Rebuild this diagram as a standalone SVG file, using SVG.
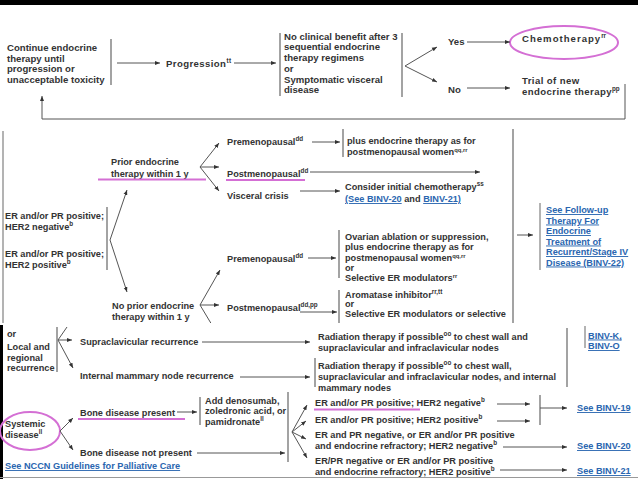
<svg xmlns="http://www.w3.org/2000/svg" width="638" height="479" viewBox="0 0 638 479">
<defs>
<marker id="ah" viewBox="0 0 6 6" refX="6" refY="3" markerWidth="5" markerHeight="5" orient="auto" markerUnits="userSpaceOnUse">
<path d="M0,0.6 L6,3 L0,5.4 z" fill="#333"/>
</marker>
<clipPath id="midclip"><rect x="0" y="129" width="638" height="194"/></clipPath>
</defs>
<style>
text{font-family:"Liberation Sans",Arial,sans-serif;font-weight:bold;fill:#333}
.t1{font-size:9.6px}
.t2{font-size:9.2px}
.lk{fill:#2a66b0;text-decoration:underline}
.sup{font-size:6.3px}
.sm{font-size:5.8px}
.ln{stroke:#555;stroke-width:1;fill:none}
.ar{stroke:#555;stroke-width:1;fill:none;marker-end:url(#ah)}
.bar{stroke:#666;stroke-width:1.2;fill:none}
.lbar{stroke:#9a9a9a;stroke-width:1.5;fill:none}
.pk{stroke:#d46fd4;stroke-width:2;fill:none}
</style>
<rect x="0" y="0" width="638" height="479" fill="#fff"/>
<rect x="0" y="0" width="638" height="5" fill="#000"/>

<!-- top panel -->
<g id="continue" class="t1">
<line class="bar" x1="111" y1="39" x2="111" y2="85"/>
<text x="7" y="51">Continue endocrine</text>
<text x="7" y="61.5">therapy until</text>
<text x="7" y="72">progression or</text>
<text x="7" y="82.5">unacceptable toxicity</text>
</g>
<g id="progression" class="t1">
<text x="166" y="66.5" letter-spacing="0.4">Progression<tspan class="sup" dy="-4">tt</tspan></text>
</g>
<g id="noclinical" class="t1">
<line class="bar" x1="280" y1="33" x2="280" y2="96"/>
<line class="bar" x1="402" y1="33" x2="402" y2="97"/>
<text x="284" y="39.5">No clinical benefit after 3</text>
<text x="284" y="50">sequential endocrine</text>
<text x="284" y="60.5">therapy regimens</text>
<text x="284" y="72">or</text>
<text x="284" y="82.5">Symptomatic visceral</text>
<text x="284" y="93">disease</text>
</g>
<g id="yes" class="t1"><text x="448" y="45">Yes</text></g>
<g id="no" class="t1"><text x="448" y="93">No</text></g>
<g id="chemo" class="t1">
<ellipse class="pk" cx="564" cy="42.5" rx="54" ry="16.5"/>
<text x="522" y="42" letter-spacing="1">Chemotherapy<tspan class="sup" dy="-4" letter-spacing="0">rr</tspan></text>
</g>
<g id="trial" class="t1">
<text x="522" y="84" letter-spacing="0.4">Trial of new</text>
<text x="522" y="95" letter-spacing="0.4">endocrine therapy<tspan class="sup" dy="-4" letter-spacing="0">pp</tspan></text>
</g>

<!-- middle panel -->
<g id="midpanel" clip-path="url(#midclip)">
<line class="lbar" x1="3" y1="131" x2="3" y2="323"/>
<g id="er" class="t2">
<line class="bar" x1="107" y1="207" x2="107" y2="270"/>
<text x="5" y="219">ER and/or PR positive;</text>
<text x="5" y="230">HER2 negative<tspan class="sup" dy="-4">b</tspan></text>
<text x="5" y="257">ER and/or PR positive;</text>
<text x="5" y="268">HER2 positive<tspan class="sup" dy="-4">b</tspan></text>
</g>
<g id="prior" class="t2">
<text x="111" y="165">Prior endocrine</text>
<text x="111" y="176.5">therapy within 1 y</text>
<line class="pk" x1="98" y1="179.5" x2="206" y2="179.5"/>
</g>
<g id="pre1" class="t2"><text x="227" y="144.5">Premenopausal<tspan class="sup" dy="-4">dd</tspan></text></g>
<g id="post1" class="t2">
<text x="227" y="177">Postmenopausal<tspan class="sup" dy="-4">dd</tspan></text>
<line class="pk" x1="226" y1="180" x2="305" y2="180"/>
</g>
<g id="visceral" class="t2"><text x="227" y="199">Visceral crisis</text></g>
<g id="ovarian1" class="t2">
<line class="bar" x1="343" y1="129" x2="343" y2="157"/>
<text x="347" y="144">plus endocrine therapy as for</text>
<text x="347" y="155">postmenopausal women<tspan class="sm" dy="-2.6">qq,rr</tspan></text>
</g>
<g id="consider" class="t2">
<text x="345" y="190">Consider initial chemotherapy<tspan class="sup" dy="-4">ss</tspan></text>
<text x="345" y="202"><tspan class="lk">(See BINV-20</tspan> and <tspan class="lk">BINV-21)</tspan></text>
</g>
<g id="noprior" class="t2">
<text x="112" y="309">No prior endocrine</text>
<text x="112" y="319.5">therapy within 1 y</text>
</g>
<g id="pre2" class="t2"><text x="227" y="261.5">Premenopausal<tspan class="sup" dy="-4">dd</tspan></text></g>
<g id="ovarian2" class="t2">
<line class="bar" x1="339" y1="230" x2="339" y2="278"/>
<text x="345" y="240">Ovarian ablation or suppression,</text>
<text x="345" y="250">plus endocrine therapy as for</text>
<text x="345" y="260.5">postmenopausal women<tspan class="sm" dy="-2.6">qq,rr</tspan></text>
<text x="345" y="270.5">or</text>
<text x="345" y="280.5">Selective ER modulators<tspan class="sm" dy="-3">rr</tspan></text>
</g>
<g id="post2" class="t2"><text x="227" y="311">Postmenopausal<tspan class="sup" dy="-4">dd,pp</tspan></text></g>
<g id="aromatase" class="t2">
<line class="bar" x1="339" y1="290" x2="339" y2="324"/>
<text x="345" y="298">Aromatase inhibitor<tspan class="sup" dy="-4">rr,tt</tspan></text>
<text x="345" y="307">or</text>
<text x="345" y="316.5">Selective ER modulators or selective</text>
</g>
<g id="followup" class="t2">
<line class="bar" x1="513" y1="129" x2="513" y2="325"/>
<line class="lbar" x1="540" y1="203" x2="540" y2="270"/>
<text class="lk" x="546" y="213">See Follow-up</text>
<text class="lk" x="546" y="223.5">Therapy For</text>
<text class="lk" x="546" y="234">Endocrine</text>
<text class="lk" x="546" y="244.5">Treatment of</text>
<text class="lk" x="546" y="255">Recurrent/Stage IV</text>
<text class="lk" x="546" y="265.5">Disease (BINV-22)</text>
</g>
</g>

<!-- bottom panel -->
<rect x="0" y="325" width="3" height="154" fill="#000"/>
<g id="local" class="t2">
<line class="bar" x1="57" y1="327" x2="57" y2="372"/>
<text x="7" y="337">or</text>
<text x="7" y="350">Local and</text>
<text x="7" y="360.5">regional</text>
<text x="7" y="371">recurrence</text>
</g>
<g id="supra" class="t2"><text x="80" y="344.5">Supraclavicular recurrence</text></g>
<g id="internal" class="t2"><text x="80" y="379">Internal mammary node recurrence</text></g>
<g id="rad1" class="t2">
<text x="318" y="340">Radiation therapy if possible<tspan class="sup" dy="-4">oo</tspan><tspan dy="4"> to chest wall and</tspan></text>
<text x="318" y="350.5">supraclavicular and infraclavicular nodes</text>
</g>
<g id="rad2" class="t2">
<line class="bar" x1="315" y1="358" x2="315" y2="387"/>
<text x="318" y="369">Radiation therapy if possible<tspan class="sup" dy="-4">oo</tspan><tspan dy="4"> to chest wall,</tspan></text>
<text x="318" y="380">supraclavicular and infraclavicular nodes, and internal</text>
<text x="318" y="391">mammary nodes</text>
</g>
<g id="binvk" class="t2">
<line class="bar" x1="567" y1="328" x2="567" y2="387"/>
<line class="lbar" x1="585" y1="326" x2="585" y2="348"/>
<text class="lk" x="588" y="338.5">BINV-K,</text>
<text class="lk" x="588" y="349">BINV-O</text>
</g>
<g id="systemic" class="t2">
<ellipse class="pk" cx="30" cy="431" rx="30" ry="19"/>
<text x="5" y="427">Systemic</text>
<text x="5" y="438">disease<tspan class="sup" dy="-4">ll</tspan></text>
</g>
<g id="bonepresent" class="t2">
<text x="80" y="415.5">Bone disease present</text>
<line class="pk" x1="78" y1="419" x2="185" y2="419"/>
</g>
<g id="adddeno" class="t2">
<line class="bar" x1="200" y1="397" x2="200" y2="425"/>
<text x="205" y="403.5">Add denosumab,</text>
<text x="205" y="414">zoledronic acid, or</text>
<text x="205" y="425">pamidronate<tspan class="sup" dy="-4">ll</tspan></text>
</g>
<g id="bonenot" class="t2"><text x="80" y="456">Bone disease not present</text></g>
<g id="erneg" class="t2">
<line class="bar" x1="288" y1="392" x2="288" y2="462"/>
<text x="315" y="406">ER and/or PR positive; HER2 negative<tspan class="sup" dy="-4">b</tspan></text>
<line class="pk" x1="314" y1="409.5" x2="420" y2="409.5"/>
</g>
<g id="erpos" class="t2"><text x="315" y="423">ER and/or PR positive; HER2 positive<tspan class="sup" dy="-4">b</tspan></text></g>
<g id="erprneg" class="t2">
<text x="315" y="438">ER and PR negative, or ER and/or PR positive</text>
<text x="315" y="448.5">and endocrine refractory; HER2 negative<tspan class="sup" dy="-4">b</tspan></text>
</g>
<g id="erprneg2" class="t2">
<text x="315" y="464">ER/PR negative or ER and/or PR positive</text>
<text x="315" y="475">and endocrine refractory; HER2 positive<tspan class="sup" dy="-4">b</tspan></text>
</g>
<g id="binv19" class="t2">
<line class="bar" x1="540" y1="395" x2="540" y2="425"/>
<text class="lk" x="577" y="411">See BINV-19</text>
</g>
<g id="binv20" class="t2"><text class="lk" x="577" y="449">See BINV-20</text></g>
<g id="binv21" class="t2"><text class="lk" x="577" y="474">See BINV-21</text></g>
<g id="nccn" class="t2"><text class="lk" x="5" y="469">See NCCN Guidelines for Palliative Care</text></g>
<line x1="0" y1="477.5" x2="638" y2="477.5" stroke="#999" stroke-width="1"/>

<!-- connectors -->
<g id="connectors">
<line class="ar" x1="117" y1="63" x2="160" y2="63"/>
<line class="ar" x1="234" y1="63" x2="276" y2="63"/>
<line class="ar" x1="405" y1="66" x2="437" y2="47"/>
<line class="ar" x1="405" y1="66" x2="437" y2="82"/>
<line class="ar" x1="467" y1="42" x2="510" y2="42"/>
<line class="ar" x1="467" y1="88" x2="510" y2="88"/>
<polyline class="ar" points="625,84 625,119 42,119 42,96"/>
<g clip-path="url(#midclip)">
<line class="ar" x1="110" y1="240" x2="127" y2="190"/>
<line class="ar" x1="110" y1="240" x2="127" y2="292"/>
<line class="ar" x1="200" y1="167" x2="219" y2="143"/>
<line class="ar" x1="200" y1="167" x2="219" y2="167"/>
<line class="ar" x1="200" y1="167" x2="219" y2="191"/>
<line class="ar" x1="312" y1="142" x2="340" y2="142"/>
<line class="ar" x1="310" y1="172" x2="480" y2="172"/>
<line class="ar" x1="300" y1="191" x2="340" y2="191"/>
<line class="ar" x1="200" y1="305" x2="220" y2="270"/>
<line class="ar" x1="200" y1="305" x2="219" y2="305"/>
<line class="ln" x1="200" y1="305" x2="212" y2="325"/>
<line class="ar" x1="308" y1="258" x2="336" y2="258"/>
<line class="ar" x1="300" y1="312" x2="337" y2="312"/>
<line class="ar" x1="517" y1="235" x2="533" y2="235"/>
</g>
<line class="ln" x1="58" y1="340" x2="67" y2="327"/>
<line class="ar" x1="58" y1="340" x2="72" y2="340"/>
<line class="ar" x1="58" y1="340" x2="73" y2="368"/>
<line class="ar" x1="202" y1="342" x2="310" y2="342"/>
<line class="ar" x1="240" y1="377" x2="310" y2="377"/>
<line class="ar" x1="60" y1="431" x2="73" y2="418"/>
<line class="ar" x1="60" y1="431" x2="73" y2="450"/>
<line class="ar" x1="177" y1="412" x2="197" y2="412"/>
<line class="ar" x1="197" y1="453" x2="285" y2="453"/>
<line class="ar" x1="292" y1="432" x2="307" y2="405"/>
<line class="ar" x1="292" y1="432" x2="306" y2="421"/>
<line class="ar" x1="292" y1="432" x2="306" y2="439"/>
<line class="ar" x1="292" y1="432" x2="307" y2="458"/>
<line class="ar" x1="497" y1="404" x2="530" y2="404"/>
<line class="ar" x1="497" y1="421" x2="530" y2="421"/>
<line class="ar" x1="540" y1="408" x2="567" y2="408"/>
<line class="ar" x1="503" y1="447" x2="567" y2="447"/>
<line class="ar" x1="500" y1="470" x2="567" y2="470"/>
</g>
</svg>
